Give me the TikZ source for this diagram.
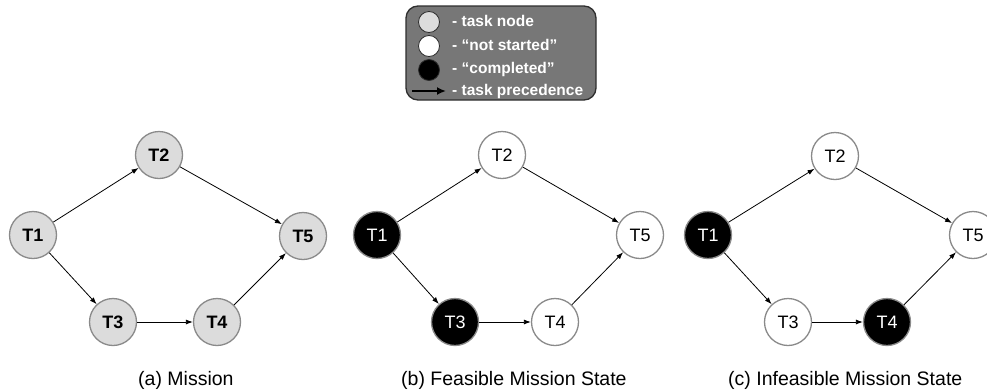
\documentclass[tikz,border=0pt]{standalone}
\usepackage{fontspec}
\setmainfont{Liberation Sans}
\usetikzlibrary{arrows.meta}
\definecolor{nodegray}{HTML}{DCDCDC}
\definecolor{rimgray}{HTML}{8A8A8A}
\definecolor{legendfill}{HTML}{777777}
\definecolor{legendrim}{HTML}{2E2E2E}
\begin{document}
\begin{tikzpicture}[x=1pt,y=-1pt,
  task/.style={circle,draw=rimgray,line width=1.3pt,minimum size=47pt,inner sep=0pt,
    font=\fontsize{18}{18}\selectfont},
  tasknode/.style={task,fill=nodegray,font=\fontsize{18}{18}\selectfont\bfseries},
  notstarted/.style={task,fill=white},
  completed/.style={task,fill=black,text=white},
  prec/.style={draw=black,line width=0.8pt,-{Latex[length=7pt,width=5pt]}},
  caption/.style={anchor=base west,inner sep=0pt,font=\fontsize{19.5}{19.5}\selectfont},
  legtext/.style={anchor=west,text=white,font=\fontsize{15.5}{15.5}\selectfont\bfseries,inner sep=0pt},
  legdot/.style={circle,draw=legendrim,line width=0.8pt,minimum size=21pt,inner sep=0pt}
]
\useasboundingbox (0,0) rectangle (987,389);

% legend
\node[draw=legendrim,line width=1.3pt,fill=legendfill,rounded corners=12pt,
  minimum width=190pt,minimum height=94pt,inner sep=0pt] (legend) at (501,53) {};
\node[legdot,fill=nodegray] (l1) at (429,22) {};
\node[legdot,fill=white] (l2) at (429,46) {};
\node[legdot,fill=black] (l3) at (429,70) {};
\coordinate (la) at (412,91);
\coordinate (lb) at (446,91);
\draw[line width=2.2pt,-{Latex[length=9pt,width=8pt]}] (la) -- (lb);
\node[legtext] (t1) at (452,21) {- task node};
\node[legtext] (t2) at (452,45) {- “not started”};
\node[legtext] (t3) at (452,69) {- “completed”};
\node[legtext] (t4) at (452,91) {- task precedence};

% panel a
\node[tasknode] (a1) at (33,235) {T1};
\node[tasknode] (a2) at (159,155) {T2};
\node[tasknode] (a3) at (113,322) {T3};
\node[tasknode] (a4) at (217,322) {T4};
\node[tasknode] (a5) at (303,236) {T5};
\draw[prec] (a1) -- (a2);
\draw[prec] (a1) -- (a3);
\draw[prec] (a2) -- (a5);
\draw[prec] (a3) -- (a4);
\draw[prec] (a4) -- (a5);

% panel b
\node[completed] (b1) at (377,235) {T1};
\node[notstarted] (b2) at (502,155) {T2};
\node[completed] (b3) at (455,322) {T3};
\node[notstarted] (b4) at (555,322) {T4};
\node[notstarted] (b5) at (640,235) {T5};
\draw[prec] (b1) -- (b2);
\draw[prec] (b1) -- (b3);
\draw[prec] (b2) -- (b5);
\draw[prec] (b3) -- (b4);
\draw[prec] (b4) -- (b5);

% panel c
\node[completed] (c1) at (708,235) {T1};
\node[notstarted] (c2) at (835,156) {T2};
\node[notstarted] (c3) at (788,322) {T3};
\node[completed] (c4) at (887,322) {T4};
\node[notstarted] (c5) at (973,235) {T5};
\draw[prec] (c1) -- (c2);
\draw[prec] (c1) -- (c3);
\draw[prec] (c2) -- (c5);
\draw[prec] (c3) -- (c4);
\draw[prec] (c4) -- (c5);

% captions
\node[caption] (capa) at (138,385) {(a) Mission};
\node[caption] (capb) at (401,385) {(b) Feasible Mission State};
\node[caption] (capc) at (728,385) {(c) Infeasible Mission State};
\end{tikzpicture}
\end{document}
